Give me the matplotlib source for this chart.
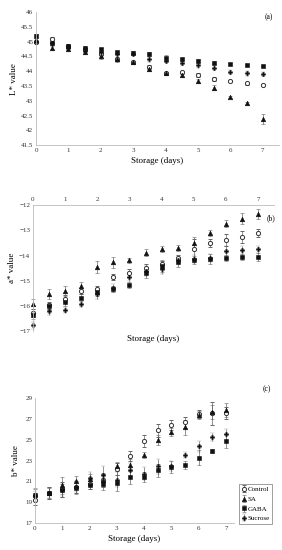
import matplotlib
matplotlib.use("Agg")
import matplotlib.pyplot as plt

plt.rcParams["font.family"] = ["Liberation Serif", "DejaVu Serif"]

# Storage time (days)
days = [0, 0.5, 1, 1.5, 2, 2.5, 3, 3.5, 4, 4.5, 5, 5.5, 6, 6.5, 7]
treatments = ["Control", "SA", "GABA", "Sucrose"]

# (a) L* value
L_control = [45.00, 45.10, 44.85, 44.75, 44.60, 44.40, 44.30, 44.15, 43.93, 43.96, 43.87, 43.74, 43.67, 43.59, 43.53]
L_sa = [45.05, 44.80, 44.75, 44.65, 44.50, 44.40, 44.30, 44.08, 43.93, 43.87, 43.67, 43.44, 43.14, 42.91, 42.38]
L_gaba = [45.20, 44.94, 44.85, 44.80, 44.75, 44.65, 44.62, 44.58, 44.45, 44.40, 44.35, 44.29, 44.24, 44.21, 44.18]
L_sucrose = [45.00, 44.95, 44.80, 44.70, 44.65, 44.60, 44.60, 44.40, 44.35, 44.27, 44.20, 44.12, 43.98, 43.93, 43.90]
L_control_err = [0.05, 0.05, 0.05, 0.05, 0.06, 0.06, 0.05, 0.06, 0.05, 0.06, 0.07, 0.07, 0.04, 0.04, 0.04]
L_sa_err = [0.08, 0.07, 0.06, 0.06, 0.10, 0.08, 0.06, 0.06, 0.05, 0.06, 0.06, 0.08, 0.04, 0.04, 0.18]
L_gaba_err = [0.05, 0.05, 0.05, 0.05, 0.05, 0.05, 0.05, 0.08, 0.10, 0.06, 0.05, 0.04, 0.03, 0.04, 0.03]
L_sucrose_err = [0.05, 0.05, 0.05, 0.05, 0.05, 0.05, 0.05, 0.08, 0.05, 0.06, 0.08, 0.08, 0.07, 0.08, 0.07]

# (b) a* value
a_control = [-16.28, -15.98, -15.71, -15.42, -15.34, -14.86, -14.69, -14.49, -14.35, -14.10, -13.74, -13.50, -13.39, -13.27, -13.10]
a_sa = [-15.91, -15.51, -15.41, -15.21, -14.45, -14.27, -14.19, -13.88, -13.75, -13.70, -13.50, -13.10, -12.73, -12.53, -12.36]
a_gaba = [-16.35, -16.02, -15.85, -15.67, -15.45, -15.32, -15.16, -14.69, -14.41, -14.27, -14.17, -14.13, -14.08, -14.06, -14.06]
a_sucrose = [-16.77, -16.22, -16.15, -15.91, -15.54, -15.30, -14.85, -14.60, -14.52, -14.19, -14.14, -14.10, -13.83, -13.79, -13.76]
a_control_err = [0.15, 0.15, 0.15, 0.12, 0.15, 0.12, 0.15, 0.15, 0.15, 0.12, 0.40, 0.15, 0.25, 0.25, 0.15]
a_sa_err = [0.20, 0.20, 0.20, 0.15, 0.25, 0.22, 0.10, 0.15, 0.12, 0.12, 0.25, 0.12, 0.15, 0.20, 0.20]
a_gaba_err = [0.15, 0.15, 0.15, 0.15, 0.15, 0.12, 0.12, 0.20, 0.25, 0.20, 0.15, 0.20, 0.12, 0.12, 0.15]
a_sucrose_err = [0.15, 0.15, 0.12, 0.12, 0.18, 0.15, 0.15, 0.20, 0.20, 0.15, 0.15, 0.15, 0.20, 0.15, 0.15]

# (c) b* value
b_control = [19.19, 19.90, 20.25, 20.45, 20.75, 21.10, 22.20, 23.47, 24.88, 25.90, 26.44, 26.67, 27.47, 27.56, 27.59]
b_sa = [19.75, 19.90, 20.63, 21.04, 21.20, 21.17, 22.45, 22.60, 23.57, 24.97, 25.77, 26.19, 27.37, 27.66, 27.88]
b_gaba = [19.73, 19.90, 20.15, 20.37, 20.66, 20.73, 20.85, 21.43, 21.43, 22.07, 22.39, 22.55, 23.28, 23.89, 24.88]
b_sucrose = [19.60, 19.90, 20.20, 20.50, 21.36, 21.65, 21.17, 22.13, 21.75, 22.45, 22.48, 23.57, 24.37, 25.26, 25.52]
b_control_err = [0.50, 0.60, 0.70, 0.60, 0.50, 0.60, 0.60, 0.50, 0.60, 0.60, 0.50, 0.50, 0.40, 1.10, 0.60]
b_sa_err = [0.60, 0.50, 0.80, 0.50, 0.50, 0.60, 0.40, 0.60, 0.30, 0.50, 0.40, 0.70, 0.40, 0.70, 0.70]
b_gaba_err = [0.50, 0.60, 0.60, 0.60, 0.40, 0.60, 0.80, 0.70, 0.50, 0.60, 0.60, 0.40, 0.70, 0.20, 0.70]
b_sucrose_err = [0.50, 0.50, 0.60, 0.50, 0.50, 0.80, 0.70, 0.60, 0.60, 0.70, 0.50, 0.30, 0.50, 0.40, 0.50]

styles = {
    "Control": dict(marker="o", mfc="white", mec="#333333", ms=3.0, mew=0.7),
    "SA": dict(marker="^", mfc="#111111", mec="#111111", ms=3.3, mew=0.4),
    "GABA": dict(marker="s", mfc="#111111", mec="#111111", ms=3.1, mew=0.4),
    "Sucrose": dict(marker="P", mfc="#111111", mec="#111111", ms=3.2, mew=0.2),
}

fig = plt.figure(figsize=(2.82, 5.5), dpi=100)
ax_a = fig.add_axes([0.128, 0.736, 0.861, 0.242])
ax_b = fig.add_axes([0.117, 0.398, 0.855, 0.229])
ax_c = fig.add_axes([0.124, 0.049, 0.706, 0.227])

panels = [
    (ax_a, [L_control, L_sa, L_gaba, L_sucrose], [L_control_err, L_sa_err, L_gaba_err, L_sucrose_err]),
    (ax_b, [a_control, a_sa, a_gaba, a_sucrose], [a_control_err, a_sa_err, a_gaba_err, a_sucrose_err]),
    (ax_c, [b_control, b_sa, b_gaba, b_sucrose], [b_control_err, b_sa_err, b_gaba_err, b_sucrose_err]),
]

for ax, series, errs in panels:
    for name, vals, err in zip(treatments, series, errs):
        ax.errorbar(days, vals, yerr=err, linestyle="none", ecolor="#666666",
                    elinewidth=0.5, capsize=1.2, capthick=0.5, label=name,
                    clip_on=False, **styles[name])
    for s in ax.spines.values():
        s.set_visible(False)
    ax.tick_params(length=0, labelsize=5, colors="#333333", pad=2)
    ax.set_xticks(range(0, 8))

# (a)
ax_a.set_xlim(0, 7.5)
ax_a.set_ylim(41.5, 46)
ax_a.set_yticks([41.5, 42, 42.5, 43, 43.5, 44, 44.5, 45, 45.5, 46])
ax_a.set_yticklabels(["41.5", "42", "42.5", "43", "43.5", "44", "44.5", "45", "45.5", "46"])
ax_a.spines["left"].set_visible(True)
ax_a.spines["bottom"].set_visible(True)
ax_a.set_xlabel("Storage (days)", fontsize=6.5, labelpad=3)
ax_a.set_ylabel("L* value", fontsize=6.5, labelpad=2)

# (b) horizontal axis crosses at the top
ax_b.set_xlim(0, 7.5)
ax_b.set_ylim(-17, -12)
ax_b.set_yticks([-17, -16, -15, -14, -13, -12])
ax_b.xaxis.tick_top()
ax_b.spines["left"].set_visible(True)
ax_b.spines["top"].set_visible(True)
ax_b.set_xlabel("Storage (days)", fontsize=6.5, labelpad=3)
ax_b.set_ylabel("a* value", fontsize=6.5, labelpad=2)

# (c)
ax_c.set_xlim(0, 7.3)
ax_c.set_ylim(17, 29)
ax_c.set_yticks([17, 19, 21, 23, 25, 27, 29])
ax_c.spines["left"].set_visible(True)
ax_c.spines["bottom"].set_visible(True)
ax_c.set_xlabel("Storage (days)", fontsize=6.5, labelpad=3)
ax_c.set_ylabel("b* value", fontsize=6.5, labelpad=4)

for ax in (ax_a, ax_b, ax_c):
    for s in ax.spines.values():
        s.set_color("#bbbbbb")
        s.set_linewidth(0.6)

fig.text(0.955, 0.968, "(a)", fontsize=5.5, ha="center", va="center")
fig.text(0.962, 0.603, "(b)", fontsize=5.5, ha="center", va="center")
fig.text(0.947, 0.292, "(c)", fontsize=5.5, ha="center", va="center")

handles, labels = ax_c.get_legend_handles_labels()
leg = fig.legend(handles, labels, loc="lower left", bbox_to_anchor=(0.848, 0.047),
                 fontsize=5, frameon=True, fancybox=False, handlelength=0.6,
                 handletextpad=0.2, borderpad=0.4, labelspacing=0.55, borderaxespad=0)
leg.get_frame().set_edgecolor("#555555")
leg.get_frame().set_linewidth(0.5)

fig.savefig("out.png", dpi=100)
